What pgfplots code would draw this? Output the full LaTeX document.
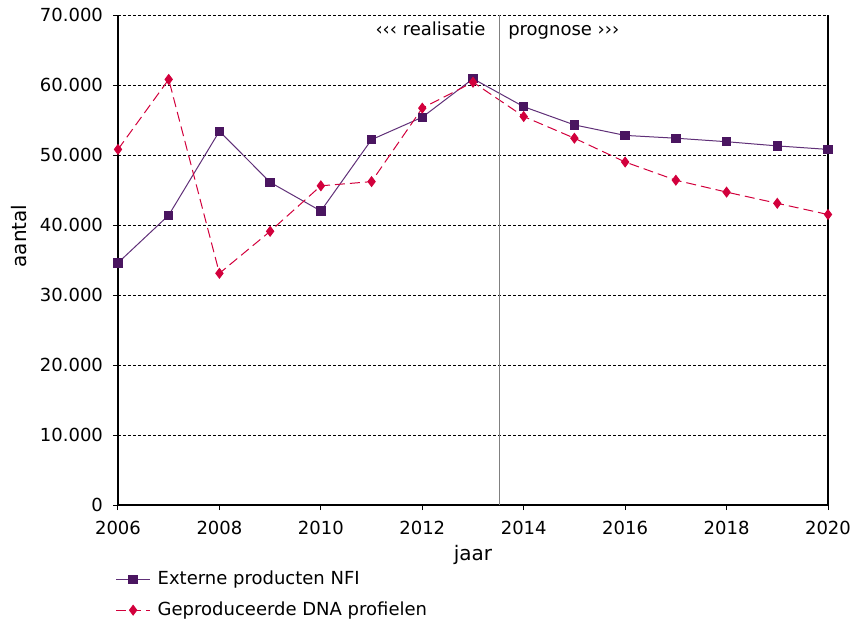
\documentclass[border=0pt]{standalone}
\usepackage{fontspec}
\setmainfont{DejaVu Sans}
\usepackage{pgfplots}
\pgfplotsset{compat=1.18}
\definecolor{nfipurple}{RGB}{74,21,96}
\definecolor{nfiline}{RGB}{96,48,120}
\definecolor{dnared}{RGB}{210,0,60}
\newcommand{\chartfont}{\fontsize{9}{11}\selectfont}
\begin{document}
\begin{tikzpicture}
\begin{axis}[
  at={(0,0)}, anchor=south west,
  scale only axis,
  width=355pt, height=245pt,
  xmin=2006, xmax=2020, ymin=0, ymax=70000,
  xtick={2006,2008,...,2020},
  ytick={0,10000,...,70000},
  axis x line*=bottom,
  xtick pos=bottom, ytick pos=left,
  tick align=outside,
  major tick length=2.5pt,
  tick style={black, line width=0.5pt},
  axis line style={black, line width=0.7pt},
  ymajorgrids,
  grid style={black, line width=0.45pt, dash pattern=on 1.5pt off 1pt},
  /pgf/number format/.cd, assume math mode=true, 1000 sep={.}, use comma,
  /pgfplots/.cd,
  scaled y ticks=false,
  xticklabel={\pgfmathprintnumber[1000 sep={}]{\tick}},
  ticklabel style={font=\chartfont},
  xticklabel style={yshift=-2pt},
  yticklabel style={xshift=-1.5pt},
  label style={font=\chartfont},
  xlabel={jaar},
  ylabel={aantal},
  every axis x label/.style={at={(axis description cs:0.5,0)}, anchor=base, yshift=-27.5pt},
  every axis y label/.style={at={(axis description cs:-0.1395,0.549)}, rotate=90, anchor=center},
  legend style={draw=none, fill=none, at={(-0.004,-0.126)}, anchor=north west,
    font=\chartfont, row sep=3pt, cells={anchor=west},
    inner sep=0pt, nodes={inner xsep=3.5pt}},
  legend cell align=left,
]
\addplot[color=nfiline, line width=0.5pt, mark=square*, mark size=2.1pt,
  mark options={solid, fill=nfipurple, draw=nfipurple}] coordinates {
 (2006,34600) (2007,41400) (2008,53400) (2009,46100) (2010,42000)
 (2011,52200) (2012,55400) (2013,60900) (2014,56900) (2015,54300)
 (2016,52800) (2017,52400) (2018,51900) (2019,51300) (2020,50800)};
\addlegendentry{Externe producten NFI}
\addplot[color=dnared, line width=0.5pt, dash pattern=on 5pt off 2.5pt,
  mark=diamond*, mark size=2.4pt,
  mark options={solid, fill=dnared, draw=dnared}] coordinates {
 (2006,50800) (2007,60800) (2008,33100) (2009,39100) (2010,45600)
 (2011,46200) (2012,56700) (2013,60400) (2014,55500) (2015,52400)
 (2016,49000) (2017,46400) (2018,44700) (2019,43100) (2020,41500)};
\addlegendentry{Geproduceerde DNA profielen}
\draw[gray, line width=0.5pt] (axis cs:2013.53,0) -- (axis cs:2013.53,70000);
\node[anchor=base east, font=\chartfont, xshift=-7pt, inner sep=0pt]
  at (axis cs:2013.53,67143) {‹‹‹ realisatie};
\node[anchor=base west, font=\chartfont, xshift=4pt, inner sep=0pt]
  at (axis cs:2013.53,67143) {prognose ›››};
\end{axis}
\pgfresetboundingbox
\path[use as bounding box] (-59pt,-58.5pt) rectangle (367pt,252.5pt);
\end{tikzpicture}
\end{document}
